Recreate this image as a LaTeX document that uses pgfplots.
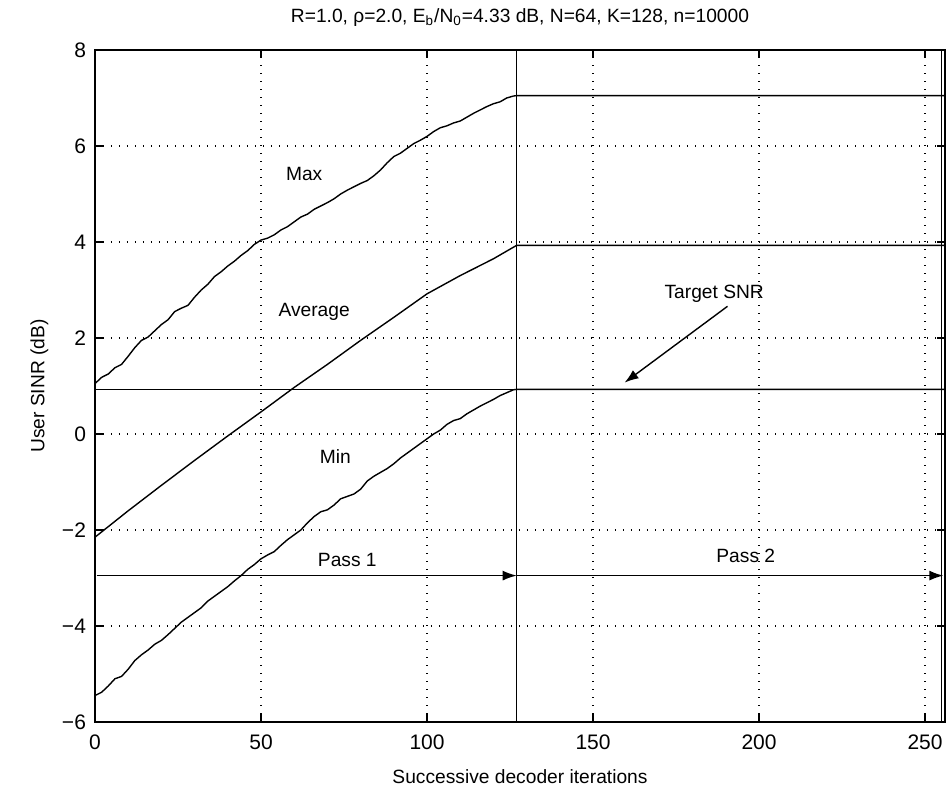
\documentclass[border=0pt]{standalone}
\usepackage{pgfplots}
\pgfplotsset{compat=1.18}
\usetikzlibrary{arrows.meta}
\usepackage{fontspec}
\setmainfont{Liberation Sans}
\begin{document}
\begin{tikzpicture}
\useasboundingbox (-47.5pt,-32pt) rectangle (427pt,361pt);
\begin{axis}[
  at={(0,0)}, anchor=south west,
  scale only axis, width=425pt, height=336pt,
  xmin=0, xmax=256, ymin=-6, ymax=8,
  xtick={0,50,100,150,200,250}, ytick={-6,-4,-2,0,2,4,6,8},
  yticklabels={−6,−4,−2,0,2,4,6,8},
  tick align=inside, tick pos=both,
  major tick length=4pt,
  tick style={black, line width=0.6pt},
  grid=major, major grid style={black, line width=0.6pt, dash pattern=on 0.6pt off 3.4pt},
  axis line style={line width=0.6pt},
  /pgf/number format/assume math mode=true,
  ticklabel style={font=\fontsize{10.5}{12}\selectfont},
  xticklabel style={yshift=-3pt},
  yticklabel style={xshift=-1pt},
  title={R=1.0, ρ=2.0, E\textsubscript{b}/N\textsubscript{0}=4.33 dB, N=64, K=128, n=10000},
  title style={font=\fontsize{9.6}{11}\selectfont, yshift=2pt},
  xlabel={Successive decoder iterations},
  ylabel={User SINR (dB)},
  label style={font=\fontsize{9.6}{11}\selectfont},
  xlabel style={yshift=-3pt},
  ylabel style={yshift=0pt},
]
% Max
\addplot[black, line width=0.7pt] coordinates {
(0,1.05)(2,1.18)(4,1.25)(6,1.38)(8,1.45)(10,1.62)(12,1.8)(14,1.95)(16,2.02)(18,2.15)
(20,2.28)(22,2.38)(24,2.55)(26,2.62)(28,2.68)(30,2.85)(32,3.0)(34,3.12)(36,3.28)(38,3.38)
(40,3.5)(42,3.6)(44,3.72)(46,3.82)(48,3.95)(50,4.04)(52,4.08)(54,4.15)(56,4.25)(58,4.32)
(60,4.42)(62,4.52)(64,4.58)(66,4.68)(68,4.75)(70,4.82)(72,4.9)(74,5.0)(76,5.08)(78,5.15)
(80,5.22)(82,5.28)(84,5.38)(86,5.5)(88,5.65)(90,5.78)(92,5.85)(94,5.95)(96,6.05)(98,6.12)
(100,6.2)(102,6.3)(104,6.38)(106,6.42)(108,6.48)(110,6.52)(112,6.6)(114,6.68)(116,6.75)(118,6.82)
(120,6.88)(122,6.92)(124,7.0)(126,7.04)(127,7.05)(256,7.05)};
% Average
\addplot[black, line width=0.7pt] coordinates {
(0,-2.15)(10,-1.6)(20,-1.07)(30,-0.55)(40,-0.04)(50,0.46)(60,0.97)(70,1.45)(80,1.95)
(90,2.43)(100,2.92)(110,3.3)(120,3.65)(127,3.93)(256,3.93)};
% Min
\addplot[black, line width=0.7pt] coordinates {
(0,-5.45)(2,-5.38)(4,-5.25)(6,-5.1)(8,-5.05)(10,-4.9)(12,-4.72)(14,-4.6)(16,-4.5)(18,-4.38)
(20,-4.3)(22,-4.18)(24,-4.05)(26,-3.92)(28,-3.82)(30,-3.72)(32,-3.62)(34,-3.48)(36,-3.38)(38,-3.28)
(40,-3.18)(42,-3.06)(44,-2.95)(46,-2.82)(48,-2.72)(50,-2.6)(52,-2.52)(54,-2.45)(56,-2.32)(58,-2.2)
(60,-2.1)(62,-2.0)(64,-1.85)(66,-1.72)(68,-1.62)(70,-1.58)(72,-1.48)(74,-1.35)(76,-1.3)(78,-1.25)
(80,-1.15)(82,-0.98)(84,-0.88)(86,-0.8)(88,-0.72)(90,-0.62)(92,-0.5)(94,-0.4)(96,-0.3)(98,-0.2)
(100,-0.1)(102,0.0)(104,0.08)(106,0.2)(108,0.28)(110,0.32)(112,0.42)(114,0.5)(116,0.58)(118,0.65)
(120,0.72)(122,0.8)(124,0.86)(126,0.92)(127,0.93)(256,0.93)};
% Target SNR
\addplot[black, line width=0.7pt] coordinates {(0,0.93)(256,0.93)};
% pass boundaries
\addplot[black, line width=0.8pt] coordinates {(127,-6)(127,8)};
\addplot[black, line width=0.7pt] coordinates {(255,-6)(255,8)};
% pass arrows
\addplot[black, line width=0.7pt, -{Latex[length=7pt,width=5pt]}] coordinates {(0.5,-2.95)(127,-2.95)};
\addplot[black, line width=0.7pt, -{Latex[length=7pt,width=5pt]}] coordinates {(127,-2.95)(255.5,-2.95)};
% Target SNR arrow
\addplot[black, line width=0.7pt, -{Latex[length=7pt,width=5pt]}] coordinates {(190.5,2.66)(159.5,1.07)};
\node[font=\fontsize{9.6}{11}\selectfont] at (axis cs:63,5.42) {Max};
\node[font=\fontsize{9.6}{11}\selectfont] at (axis cs:66,2.54) {Average};
\node[font=\fontsize{9.6}{11}\selectfont] at (axis cs:72.4,-0.46) {Min};
\node[font=\fontsize{9.6}{11}\selectfont] at (axis cs:76,-2.63) {Pass 1};
\node[font=\fontsize{9.6}{11}\selectfont] at (axis cs:196,-2.54) {Pass 2};
\node[font=\fontsize{9.6}{11}\selectfont] at (axis cs:186.5,2.92) {Target SNR};
\end{axis}
\end{tikzpicture}
\end{document}
